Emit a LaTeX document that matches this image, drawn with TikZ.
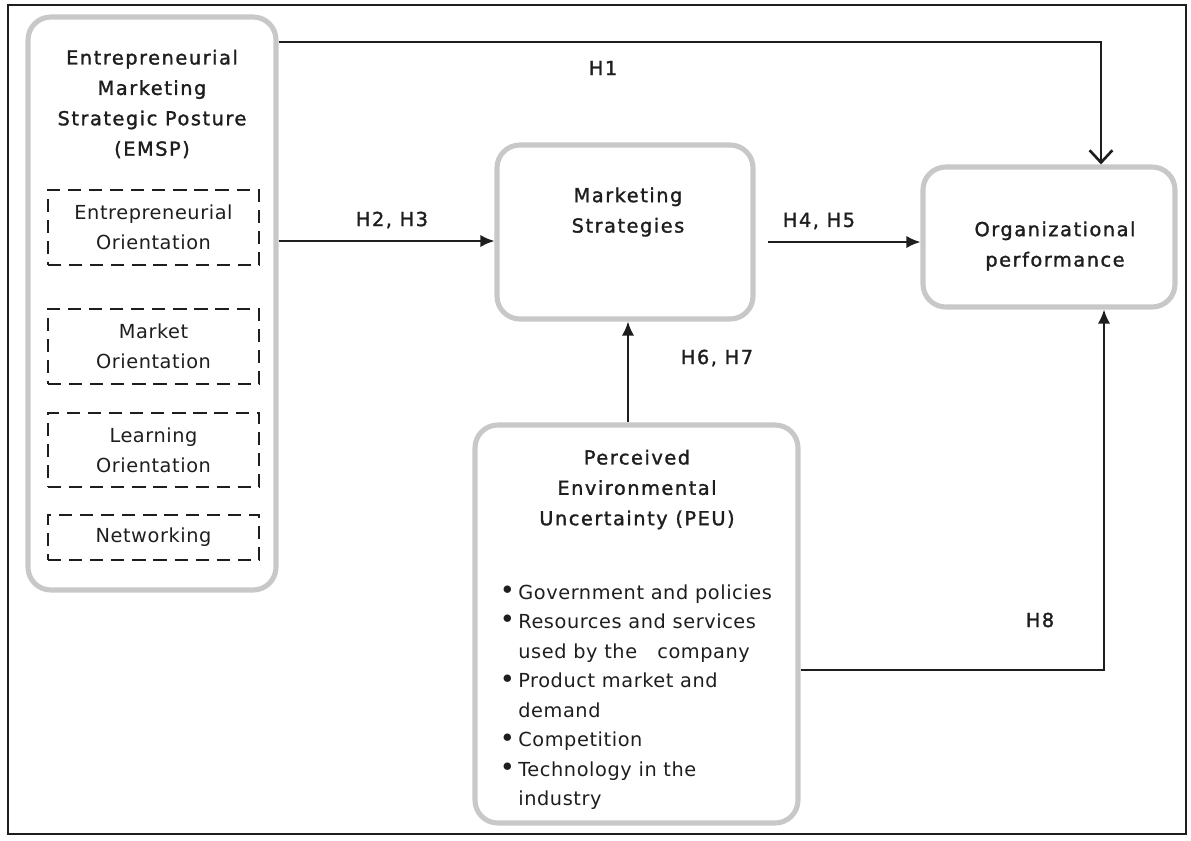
\documentclass[tikz,border=0pt]{standalone}
\usepackage{fontspec}
\setmainfont{DejaVu Sans}[LetterSpace=3]
\newfontfamily\semib{DejaVu Sans}[FakeBold=1.5,LetterSpace=8]
\usetikzlibrary{arrows.meta,fit}
\definecolor{boxgray}{HTML}{C8C8C8}
\definecolor{ink}{HTML}{1E1E1E}
\newcommand{\bul}{\llap{\raisebox{2.6pt}{$\bullet$}\hspace{3.5pt}}}
\tikzset{
  gbox/.style={draw=boxgray, line width=2.9pt, rounded corners=13pt, inner sep=0pt},
  dbox/.style={draw=ink, line width=1pt, dash pattern=on 7.5pt off 4.5pt, align=center,
    minimum width=4.22cm, inner sep=0pt, font=\fontsize{11}{17}\selectfont, text=ink},
  ttl/.style={align=center, font=\semib\fontsize{11}{17.3}\selectfont, text=ink},
  hlab/.style={font=\semib\fontsize{11}{12}\selectfont, text=ink},
  conn/.style={draw=ink, line width=1.1pt},
  arr/.style={conn, -{Latex[length=8pt,width=7pt]}},
  varr/.style={conn, -{Straight Barb[length=7pt,width=13pt,line width=1.5pt]}},
}
\begin{document}
\begin{tikzpicture}[x=0.02cm,y=-0.02cm]
\useasboundingbox (0,0) rectangle (1191,840);
\draw[line width=1.3pt, draw=ink] (8,5) rectangle (1186,834);

% EMSP
\node[gbox, fit={(28,17) (276,590)}] (emsp) {};
\node[ttl] (emspt) at (152,104) {Entrepreneurial\\Marketing\\Strategic Posture\\(EMSP)};
\node[dbox, minimum height=1.5cm] (eo) at (153.5,227.5) {Entrepreneurial\\Orientation};
\node[dbox, minimum height=1.5cm] (mo) at (153.5,346.5) {Market\\Orientation};
\node[dbox, minimum height=1.48cm] (lo) at (153.5,450) {Learning\\Orientation};
\node[dbox, minimum height=0.9cm] (nw) at (153.5,537.5) {Networking};

% Marketing strategies
\node[gbox, fit={(497,145) (753,319)}] (ms) {};
\node[ttl] (mst) at (628,212) {Marketing\\Strategies};

% Organizational performance
\node[gbox, fit={(923,167) (1175,307)}] (org) {};
\node[ttl] (orgt) at (1055,246) {Organizational\\performance};

% PEU
\node[gbox, fit={(475,425) (798,823)}] (peu) {};
\node[ttl] (peut) at (637,489.5) {Perceived\\Environmental\\Uncertainty (PEU)};
\node[anchor=north west, align=left, inner sep=0pt, text=ink,
  font=\fontsize{11}{16.8}\selectfont] (peul) at (518,584)
 {\bul Government and policies\\
  \bul Resources and services\\
  used by the\ \ \ company\\
  \bul Product market and\\
  demand\\
  \bul Competition\\
  \bul Technology in the\\
  industry};

% helper coordinates
\coordinate (h1) at (1101,42);
\coordinate (y241) at (0,241);
\coordinate (y242) at (0,242);
\coordinate (x628) at (628,0);
\coordinate (h8) at (1104,670);

% H1
\draw[varr] (emsp.east |- h1) -- (h1) -- (org.north -| h1);
\node[hlab] (lh1) at (603,68) {H1};
% H2,H3
\draw[arr] (emsp.east |- y241) -- (ms.west |- y241);
\node[hlab] (lh23) at (392,220) {H2, H3};
% H4,H5
\draw[arr, shorten <=7pt] (ms.east |- y242) -- (org.west |- y242);
\node[hlab] (lh45) at (819,221) {H4, H5};
% H6,H7
\draw[arr] (peu.north -| x628) -- (ms.south -| x628);
\node[hlab] (lh67) at (717,358) {H6, H7};
% H8
\draw[arr] (peu.east |- h8) -- (h8) -- (org.south -| h8);
\node[hlab] (lh8) at (1040,620) {H8};
\end{tikzpicture}
\end{document}
